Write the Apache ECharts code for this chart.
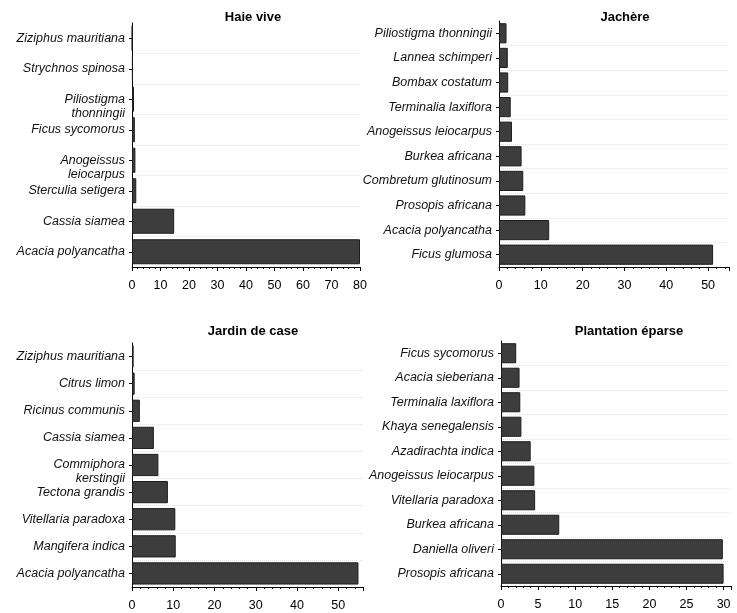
<!DOCTYPE html>
<html>
<head>
<meta charset="utf-8">
<script src="https://cdn.jsdelivr.net/npm/echarts@6/dist/echarts.min.js"></script>
<style>
	html, body { margin: 0; padding: 0; background: #fff; }
	#chart { width: 737px; height: 613px; }
</style>
</head>
<body>
<div id="chart"></div>
<script>
// categories are listed top to bottom, as in the picture
const haieCats = ['Ziziphus mauritiana', 'Strychnos spinosa', 'Piliostigma thonningii', 'Ficus sycomorus',
	'Anogeissus leiocarpus', 'Sterculia setigera', 'Cassia siamea', 'Acacia polyancatha']
const haieVals = [0.1, 0.3, 0.7, 1.0, 1.2, 1.5, 14.8, 80]

const jachereCats = ['Piliostigma thonningii', 'Lannea schimperi', 'Bombax costatum', 'Terminalia laxiflora',
	'Anogeissus leiocarpus', 'Burkea africana', 'Combretum glutinosum', 'Prosopis africana',
	'Acacia polyancatha', 'Ficus glumosa']
const jachereVals = [1.8, 2.1, 2.2, 2.8, 3.1, 5.4, 5.8, 6.3, 12.0, 51.2]

const jardinCats = ['Ziziphus mauritiana', 'Citrus limon', 'Ricinus communis', 'Cassia siamea',
	'Commiphora kerstingii', 'Tectona grandis', 'Vitellaria paradoxa', 'Mangifera indica', 'Acacia polyancatha']
const jardinVals = [0.4, 0.65, 1.9, 5.3, 6.4, 8.7, 10.5, 10.6, 54.9]

const plantCats = ['Ficus sycomorus', 'Acacia sieberiana', 'Terminalia laxiflora', 'Khaya senegalensis',
	'Azadirachta indica', 'Anogeissus leiocarpus', 'Vitellaria paradoxa', 'Burkea africana',
	'Daniella oliveri', 'Prosopis africana']
const plantVals = [2.05, 2.5, 2.6, 2.75, 4.0, 4.5, 4.6, 7.85, 29.9, 30.0]

const titles = ['Haie vive', 'Jachère', 'Jardin de case', 'Plantation éparse']
const xMax = [80, 55, 56, 31]
const xInterval = [10, 10, 10, 5]

const FONT = '"Liberation Sans", Arial, Helvetica, sans-serif'

// panel geometry
const panels = [
	{ cats: haieCats, vals: haieVals, grid: { left: 132, top: 23, width: 228, height: 244 }, wrap: true, titleX: 248, titleY: 6 },
	{ cats: jachereCats, vals: jachereVals, grid: { left: 499, top: 21, width: 230, height: 246 }, wrap: false, titleX: 620, titleY: 6 },
	{ cats: jardinCats, vals: jardinVals, grid: { left: 132, top: 343, width: 231, height: 244 }, wrap: true, titleX: 248, titleY: 320 },
	{ cats: plantCats, vals: plantVals, grid: { left: 501, top: 341, width: 230, height: 245 }, wrap: false, titleX: 624, titleY: 320 },
]

// long names wrap; the first line stays on the tick
function wrapLabel(name) {
	if (name.length <= 19) return name
	const i = name.lastIndexOf(' ')
	return '\u00a0\n' + name.slice(0, i) + '\n' + name.slice(i + 1)
}

const option = {
	animation: false,
	title: [],
	grid: [],
	xAxis: [],
	yAxis: [],
	series: [],
}

panels.forEach((p, i) => {
	option.title.push({
		text: titles[i],
		left: p.titleX,
		top: p.titleY,
		textAlign: 'center',
		textStyle: { fontFamily: FONT, fontSize: 13, fontWeight: 'bold', color: '#000' },
	})
	option.grid.push(p.grid)
	option.xAxis.push({
		type: 'value',
		gridIndex: i,
		min: 0,
		max: xMax[i],
		interval: xInterval[i],
		axisLine: { show: true, lineStyle: { color: '#000', width: 1 } },
		axisTick: { show: true, length: 4, lineStyle: { color: '#000' } },
		minorTick: { show: true, splitNumber: 5, length: 2, lineStyle: { color: '#000' } },
		splitLine: { show: false },
		axisLabel: {
			color: '#000', fontFamily: FONT, fontSize: 12.5, margin: 12,
			formatter: v => (v % xInterval[i] === 0 ? String(v) : ''),
		},
	})
	option.yAxis.push({
		type: 'category',
		gridIndex: i,
		inverse: true,
		data: p.cats,
		axisLine: { show: true, lineStyle: { color: '#000', width: 1 } },
		axisTick: { show: true, alignWithLabel: true, length: 3, lineStyle: { color: '#000' } },
		splitLine: { show: true, showMinLine: false, lineStyle: { color: '#e2e2e2', type: 'dotted', width: 1 } },
		axisLabel: {
			color: '#111', fontFamily: FONT, fontSize: 12.5, fontStyle: 'italic', margin: 7,
			lineHeight: 14, align: 'right',
			formatter: p.wrap ? wrapLabel : (v => v),
		},
	})
	option.series.push({
		type: 'bar',
		xAxisIndex: i,
		yAxisIndex: i,
		data: p.vals,
		barCategoryGap: '18%',
		itemStyle: { color: '#3d3d3d', borderColor: '#1e1e1e', borderWidth: 1 },
	})
})

const chart = echarts.init(document.getElementById('chart'), null, { renderer: 'canvas' })
chart.setOption(option)
</script>
</body>
</html>
